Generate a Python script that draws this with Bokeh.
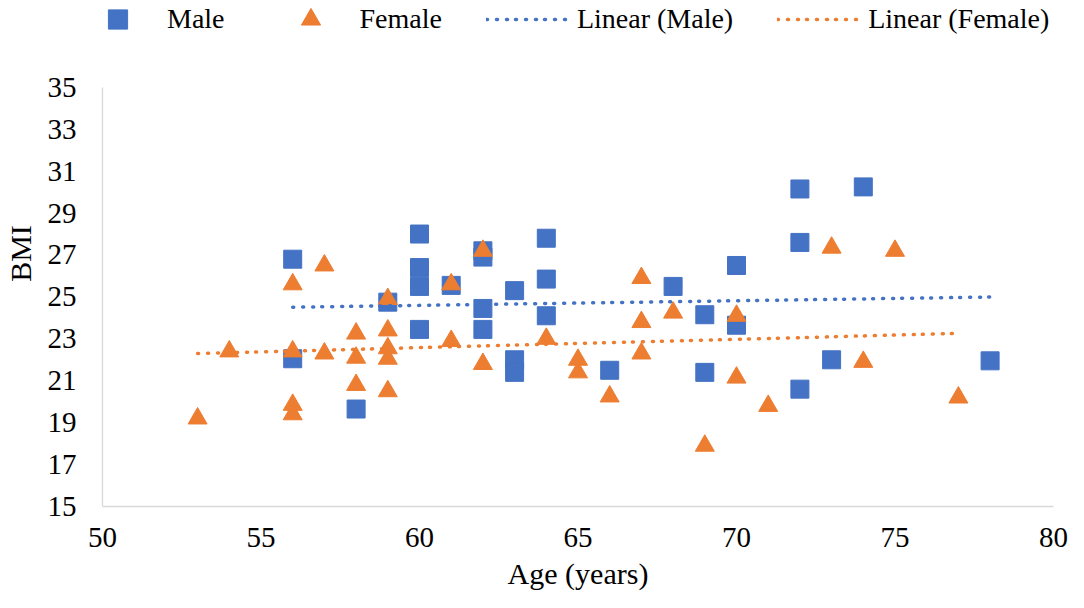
import numpy as np
from bokeh.plotting import figure
from bokeh.models import Range1d, FixedTicker, Legend, LegendItem
from bokeh.embed import file_html
from bokeh.resources import INLINE

# ---- data ----
male_age = [56, 56, 58, 59, 60, 60, 60, 60, 61, 62, 62, 62, 62, 63, 63, 63,
            64, 64, 64, 66, 68, 69, 69, 70, 70, 72, 72, 72, 73, 74, 78]
male_bmi = [26.8, 22.05, 19.65, 24.75, 28.0, 26.4, 25.5, 23.45, 25.55, 27.2, 26.9, 24.45, 23.45, 25.3, 22.0, 21.4,
            27.8, 25.85, 24.1, 21.5, 25.5, 24.15, 21.4, 26.5, 23.65, 30.15, 27.6, 20.6, 22.0, 30.25, 21.95]

female_age = [53, 54, 56, 56, 56, 56, 57, 57, 58, 58, 58, 59, 59, 59, 59, 59,
              61, 61, 62, 62, 64, 65, 65, 66, 67, 67, 67, 68, 69, 70, 70, 71,
              73, 74, 75, 77]
female_bmi = [19.2, 22.4, 25.6, 22.4, 19.85, 19.4, 26.5, 22.3, 23.25, 22.1, 20.8, 24.9, 23.4, 22.55, 22.05, 20.5,
              25.6, 22.9, 27.2, 21.8, 23.0, 22.0, 21.4, 20.25, 25.9, 23.8, 22.3, 24.25, 17.9, 24.1, 21.15, 19.8,
              27.35, 21.9, 27.2, 20.2]

x_ticks = [50, 55, 60, 65, 70, 75, 80]
y_ticks = [15, 17, 19, 21, 23, 25, 27, 29, 31, 33, 35]
x_bounds = (50, 80)
y_bounds = (15, 35)

series_labels = ["Male", "Female", "Linear (Male)", "Linear (Female)"]

BLUE = "#4472C4"
ORANGE = "#ED7D31"
FONT = "Liberation Serif"

FRAME_H = 507          # frame height in px (frame reaches the top of the figure)
AXIS_H = 420           # px used by the y axis span 15..35
y_top = y_bounds[0] + (y_bounds[1] - y_bounds[0]) * FRAME_H / AXIS_H


def linear_trend(xs, ys):
    k, b = np.polyfit(np.array(xs, float), np.array(ys, float), 1)
    x0, x1 = min(xs), max(xs)
    return [x0, x1], [k * x0 + b, k * x1 + b]


p = figure(width=1068, height=592, output_backend="svg", toolbar_location=None,
           x_range=Range1d(*x_bounds), y_range=Range1d(y_bounds[0], y_top),
           min_border_left=97, min_border_right=15, min_border_top=0, min_border_bottom=85)
p.outline_line_color = None
p.xgrid.visible = False
p.ygrid.visible = False
p.background_fill_color = "white"
p.border_fill_color = "white"

r_m = p.scatter(male_age, male_bmi, marker="square", size=18, fill_color=BLUE, line_color=BLUE)
r_f = p.scatter(female_age, female_bmi, marker="triangle", size=19, fill_color=ORANGE, line_color=ORANGE)

mx, my = linear_trend(male_age, male_bmi)
fx, fy = linear_trend(female_age, female_bmi)
dash = "1 9 1 9 1 8"
r_ml = p.line(mx, my, line_color=BLUE, line_width=3.5, line_dash=dash, line_cap="round")
r_fl = p.line(fx, fy, line_color=ORANGE, line_width=3.5, line_dash=dash, line_cap="round")

for ax in (p.xaxis[0], p.yaxis[0]):
    ax.axis_line_color = "#D9D9D9"
    ax.axis_line_width = 1.3
    ax.major_tick_line_color = None
    ax.minor_tick_line_color = None
    ax.major_tick_out = 0
    ax.major_tick_in = 0
    ax.major_label_text_font = FONT
    ax.major_label_text_font_size = "29px"
    ax.major_label_text_color = "black"
    ax.axis_label_text_font = FONT
    ax.axis_label_text_font_size = "30px"
    ax.axis_label_text_font_style = "normal"
    ax.axis_label_text_color = "black"

p.xaxis.ticker = FixedTicker(ticks=x_ticks)
p.yaxis.ticker = FixedTicker(ticks=y_ticks)
p.xaxis.bounds = x_bounds
p.yaxis.bounds = y_bounds
p.xaxis.axis_label = "Age (years)"
p.yaxis.axis_label = "BMI"
p.xaxis.major_label_standoff = 21
p.xaxis.axis_label_standoff = 7
p.yaxis.major_label_standoff = 26
p.yaxis.axis_label_standoff = 8

legend = Legend(items=[
    LegendItem(label=series_labels[0], renderers=[r_m]),
    LegendItem(label=series_labels[1], renderers=[r_f]),
    LegendItem(label=series_labels[2], renderers=[r_ml]),
    LegendItem(label=series_labels[3], renderers=[r_fl]),
], orientation="horizontal", location=(-26, 463))
legend.glyph_width = 83
legend.glyph_height = 48
legend.label_standoff = 8
legend.spacing = 44
legend.padding = 0
legend.margin = 0
legend.border_line_alpha = 0
legend.background_fill_alpha = 0
legend.label_text_font = FONT
legend.label_text_font_size = "28px"
legend.label_text_color = "black"
p.add_layout(legend, "center")

open("out.html", "w").write(file_html(p, INLINE))
